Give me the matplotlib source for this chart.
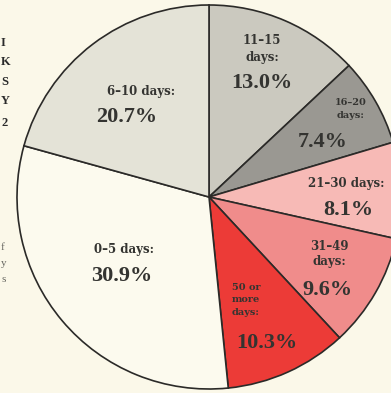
import matplotlib.pyplot as plt

# parts de la durée (sens horaire depuis midi)
categories = ['11–15\ndays:', '16–20\ndays:', '21–30 days:', '31–49\ndays:',
              '50 or\nmore\ndays:', '0–5 days:', '6–10 days:']
values = [13.0, 7.4, 8.1, 9.6, 10.3, 30.9, 20.7]
couleurs = ['#cbc9bf', '#9a9892', '#f7bab6', '#f08c8b', '#ec3b37', '#fcfaee', '#e4e3d7']

# position des étiquettes (pixels, origine en haut à gauche)
pos_cat = [(262, 49), (351, 109), (346, 183), (329, 254), (246, 300), (124, 250), (141, 91)]
pos_pct = [(262, 83), (323, 142), (348, 210), (327, 290), (267, 343), (122, 276), (127, 117)]
taille_cat = [8.5, 7, 8.5, 8.5, 7, 8.5, 8.5]
interligne = [1.3, 1.5, 1.3, 1.3, 1.45, 1.3, 1.3]

W, H = 391, 393
fond = '#fbf8e9'
encre = '#343431'
serif_cat = ['DejaVu Serif']
serif = ['Liberation Serif', 'DejaVu Serif']

fig = plt.figure(figsize=(W/100, H/100), dpi=100, facecolor=fond)
ax = fig.add_axes([0, 0, 1, 1])
ax.set_facecolor(fond)

ax.pie(values, colors=couleurs, startangle=90, counterclock=False,
       center=(209, H - 197), radius=192, frame=True,
       wedgeprops=dict(edgecolor='#2b2a28', linewidth=1.2))
ax.set_xlim(0, W)
ax.set_ylim(0, H)
ax.set_aspect('auto')
ax.axis('off')

for cat, v, (cx, cy), (px, py), fs, ls in zip(categories, values, pos_cat, pos_pct,
                                               taille_cat, interligne):
    ax.text(cx, H - cy, cat, ha='center', va='center', fontsize=fs, fontweight='bold',
            family=serif_cat, color=encre, linespacing=ls)
    ax.text(px, H - py, '{:.1f}%'.format(v), ha='center', va='center', fontsize=16,
            fontweight='bold', family=serif, color=encre)

# fragments de texte au bord gauche
for y, c in zip([43, 62, 82, 101, 123], ['I', 'K', 'S', 'Y', '2']):
    ax.text(1, H - y, c, ha='left', va='center', fontsize=9, fontweight='bold',
            family=serif, color='#2a2a2a')
for y, c in zip([247, 263, 280], ['f', 'y', 's']):
    ax.text(1, H - y, c, ha='left', va='center', fontsize=8, family=serif, color='#666660')

plt.savefig('out.png', dpi=100, facecolor=fond)
